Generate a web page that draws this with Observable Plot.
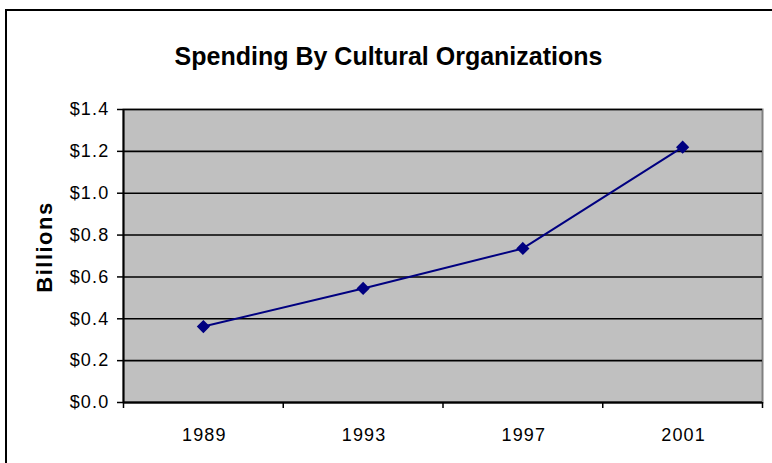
<!DOCTYPE html>
<html>
<head>
<meta charset="utf-8">
<script src="https://cdn.jsdelivr.net/npm/d3@7"></script>
<script src="https://cdn.jsdelivr.net/npm/@observablehq/plot@0.6"></script>
<style>
  html, body { margin: 0; padding: 0; background: #fff; overflow: hidden; }
  #wrap { position: relative; width: 772px; height: 463px; overflow: hidden; }
  #border { position: absolute; left: 5px; top: 9px; width: 800px; height: 500px; border: 2px solid #000; box-sizing: border-box; pointer-events: none; }
  svg { font-family: "Liberation Sans", Arial, sans-serif; }
  g[aria-label="y-axis tick label"] text, g[aria-label="x-axis tick label"] text { font-size: 18px !important; letter-spacing: 1.2px; }
</style>
</head>
<body>
<div id="wrap"><div id="border"></div></div>
<script>
const title = "Spending By Cultural Organizations";
const yLabel = "Billions";
const years = [1989, 1993, 1997, 2001];
const spending = [0.363, 0.545, 0.736, 1.22];
const yTicks = [0, 0.2, 0.4, 0.6, 0.8, 1.0, 1.2, 1.4];
const xBoundaries = [1987, 1991, 1995, 1999, 2003];

const data = years.map((y, i) => ({year: y, value: spending[i]}));

const chart = Plot.plot({
  width: 772,
  height: 463,
  marginLeft: 123,
  marginRight: 10,
  marginTop: 109,
  marginBottom: 61,
  style: {fontFamily: "Liberation Sans, Arial, sans-serif", fontSize: "18px", color: "#000", background: "transparent", overflow: "visible"},
  x: {type: "linear", domain: [1987, 2003]},
  y: {domain: [0, 1.4]},
  marks: [
    Plot.frame({fill: "#c0c0c0", stroke: "#808080", strokeWidth: 2}),
    Plot.gridY(yTicks, {stroke: "#000", strokeOpacity: 1, strokeWidth: 1.6}),
    Plot.ruleX([1987], {stroke: "#000", strokeWidth: 2}),
    Plot.ruleY([0], {stroke: "#000", strokeWidth: 2}),
    Plot.axisY({ticks: yTicks, tickFormat: d => "$" + d.toFixed(1), tickSize: 6, tickPadding: 8, stroke: "#000", strokeWidth: 1.5, label: null}),
    Plot.axisX({ticks: xBoundaries, tickFormat: () => "", tickSize: 6, strokeWidth: 1.5, label: null}),
    Plot.axisX({ticks: years, tickFormat: d => String(d), tickSize: 0, tickPadding: 26, dx: 1, label: null}),
    Plot.line(data, {x: "year", y: "value", stroke: "#000080", strokeWidth: 2}),
    Plot.dot(data, {x: "year", y: "value", symbol: "diamond2", r: 5, fill: "#000080", stroke: "#000080"}),
    Plot.text([yLabel], {frameAnchor: "left", dx: -79, dy: -9, rotate: -90, fontSize: 22, fontWeight: "bold", textAnchor: "middle"}),
    Plot.text([title], {frameAnchor: "top-left", dx: 265, dy: -62, fontSize: 25, fontWeight: "bold", textAnchor: "middle"})
  ]
});
document.getElementById("wrap").appendChild(chart);
chart.style.position = "absolute";
chart.style.left = "0";
chart.style.top = "0";
chart.querySelectorAll("g[aria-label='text'] text").forEach(t => {
  if (t.textContent === yLabel) t.style.letterSpacing = "1.5px";
});
</script>
</body>
</html>
